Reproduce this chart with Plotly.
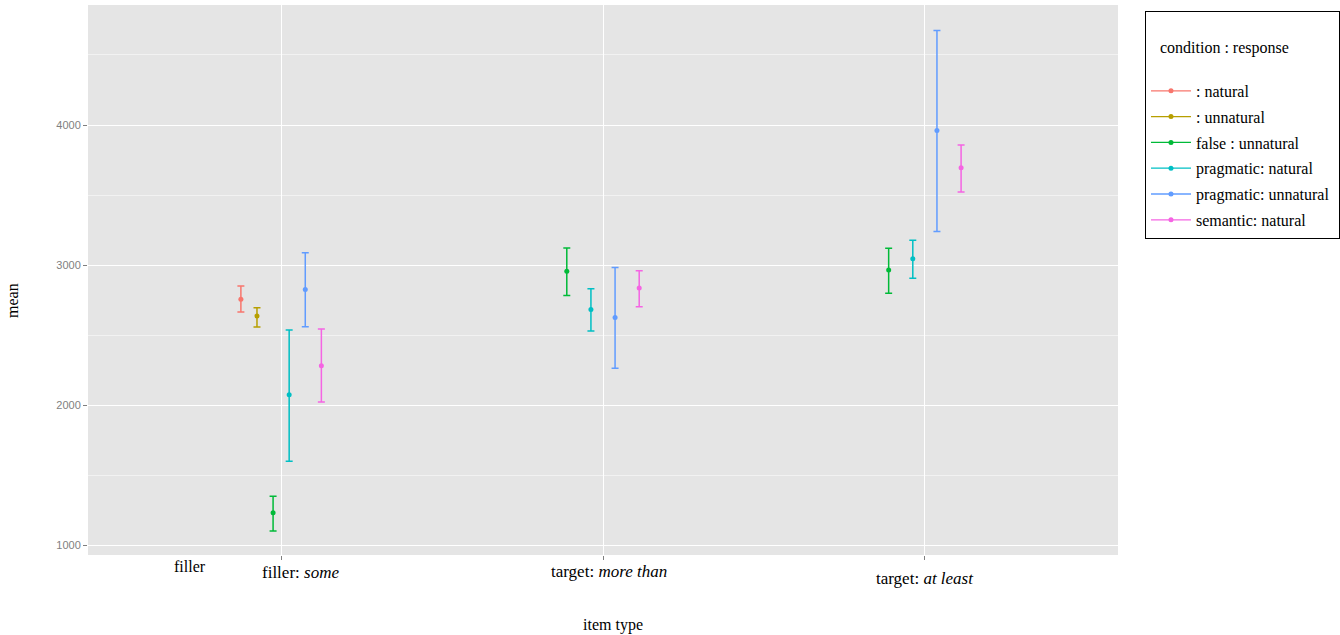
import plotly.graph_objects as go

# ---- data ----
categories = ["filler: <i>some</i>", "target: <i>more than</i>", "target: <i>at least</i>"]
series = [": natural", ": unnatural", "false : unnatural",
          "pragmatic: natural", "pragmatic: unnatural", "semantic: natural"]
colors = ["#F8766D", "#B79F00", "#00BA38", "#00BFC4", "#619CFF", "#F564E3"]

# mean / upper / lower per series, one entry per category (None = absent)
mean_natural_blank = [2755, None, None]
upper_natural_blank = [2850, None, None]
lower_natural_blank = [2664, None, None]

mean_unnatural_blank = [2636, None, None]
upper_unnatural_blank = [2695, None, None]
lower_unnatural_blank = [2557, None, None]

mean_false_unnatural = [1231, 2955, 2964]
upper_false_unnatural = [1348, 3121, 3119]
lower_false_unnatural = [1100, 2783, 2798]

mean_prag_natural = [2074, 2683, 3045]
upper_prag_natural = [2536, 2831, 3176]
lower_prag_natural = [1598, 2529, 2905]

mean_prag_unnatural = [2826, 2626, 3960]
upper_prag_unnatural = [3088, 2983, 4674]
lower_prag_unnatural = [2559, 2262, 3240]

mean_sem_natural = [2281, 2836, 3695]
upper_sem_natural = [2543, 2959, 3857]
lower_sem_natural = [2021, 2702, 3521]

means = [mean_natural_blank, mean_unnatural_blank, mean_false_unnatural,
         mean_prag_natural, mean_prag_unnatural, mean_sem_natural]
uppers = [upper_natural_blank, upper_unnatural_blank, upper_false_unnatural,
          upper_prag_natural, upper_prag_unnatural, upper_sem_natural]
lowers = [lower_natural_blank, lower_unnatural_blank, lower_false_unnatural,
          lower_prag_natural, lower_prag_unnatural, lower_sem_natural]

y_ticks = [1000, 2000, 3000, 4000]

# label placement tweaks (pixels) for the category labels
label_xshift = [19, 6, 0]
label_yshift = [0, 1, -6]

# ---- dodge positions ----
DODGE = 0.3
fig = go.Figure()
present = [[s for s in range(len(series)) if means[s][c] is not None] for c in range(len(categories))]

for s, name in enumerate(series):
    xs, ys, ep, em = [], [], [], []
    for c in range(len(categories)):
        if means[s][c] is None:
            continue
        members = present[c]
        n = len(members)
        k = members.index(s)
        xs.append(c + 1 + (k - (n - 1) / 2) * DODGE / n)
        ys.append(means[s][c])
        ep.append(uppers[s][c] - means[s][c])
        em.append(means[s][c] - lowers[s][c])
    fig.add_trace(go.Scatter(
        x=xs, y=ys, mode="markers", showlegend=False,
        marker=dict(color=colors[s], size=5),
        error_y=dict(type="data", array=ep, arrayminus=em, symmetric=False,
                     color=colors[s], thickness=1.5, width=3.5),
    ))
    # legend entry
    fig.add_trace(go.Scatter(
        x=[None], y=[None], mode="lines+markers", name=name, legendgroup=name,
        line=dict(color=colors[s], width=1.3), marker=dict(color=colors[s], size=5),
    ))

serif = "Liberation Serif, Times New Roman, serif"
sans = "Liberation Sans, Arial, sans-serif"

annotations = [
    dict(text=lab, x=i + 1, xref="x", yref="paper", y=-0.031, yanchor="middle",
         xshift=label_xshift[i], yshift=label_yshift[i], showarrow=False,
         font=dict(family=serif, size=17, color="black"))
    for i, lab in enumerate(categories)
]
annotations += [
    dict(text="filler", xref="paper", yref="paper", x=0.099, y=-0.02,
         xanchor="center", yanchor="middle",
         showarrow=False, font=dict(family=serif, size=16, color="black")),
    dict(text="item type", xref="paper", yref="paper", x=0.51, y=-0.127, yanchor="middle",
         showarrow=False, font=dict(family=serif, size=16, color="black")),
    dict(text="mean", xref="paper", yref="paper", x=-0.0738, y=0.4636, textangle=-90,
         xanchor="center", yanchor="middle",
         showarrow=False, font=dict(family=serif, size=16, color="black")),
]

fig.update_layout(
    width=1340, height=635,
    margin=dict(l=88, r=222, t=5, b=80, autoexpand=False),
    paper_bgcolor="white",
    plot_bgcolor="#E5E5E5",
    legend=dict(
        x=1.0262, y=0.99, xanchor="left", yanchor="top",
        bordercolor="black", borderwidth=1, bgcolor="white",
        font=dict(family=serif, size=16, color="black"),
        title=dict(text="<br>&nbsp;&nbsp;&nbsp;condition : response" + "&nbsp;" * 12 + "<br> ",
                   font=dict(family=serif, size=16, color="black")),
        itemwidth=40, tracegroupgap=2,
    ),
    xaxis=dict(
        range=[0.4, 3.6], tickvals=[1, 2, 3], showticklabels=False, automargin=False,
        showgrid=True, gridcolor="white", gridwidth=1.3, zeroline=False,
        ticks="outside", ticklen=4, tickcolor="#7F7F7F",
    ),
    yaxis=dict(
        range=[929, 4857], tickvals=y_ticks, automargin=False,
        showgrid=True, gridcolor="white", gridwidth=1.3, zeroline=False,
        ticks="outside", ticklen=4, tickcolor="#7F7F7F",
        tickfont=dict(family=sans, size=11, color="#7F7F7F"),
        minor=dict(dtick=500, tick0=500, showgrid=True, gridcolor="#F2F2F2", gridwidth=0.8, ticks=""),
    ),
    annotations=annotations,
)

fig.write_html("out.html", config={"displayModeBar": False},
               post_script="document.body.style.margin='0';document.body.style.overflow='hidden';")
